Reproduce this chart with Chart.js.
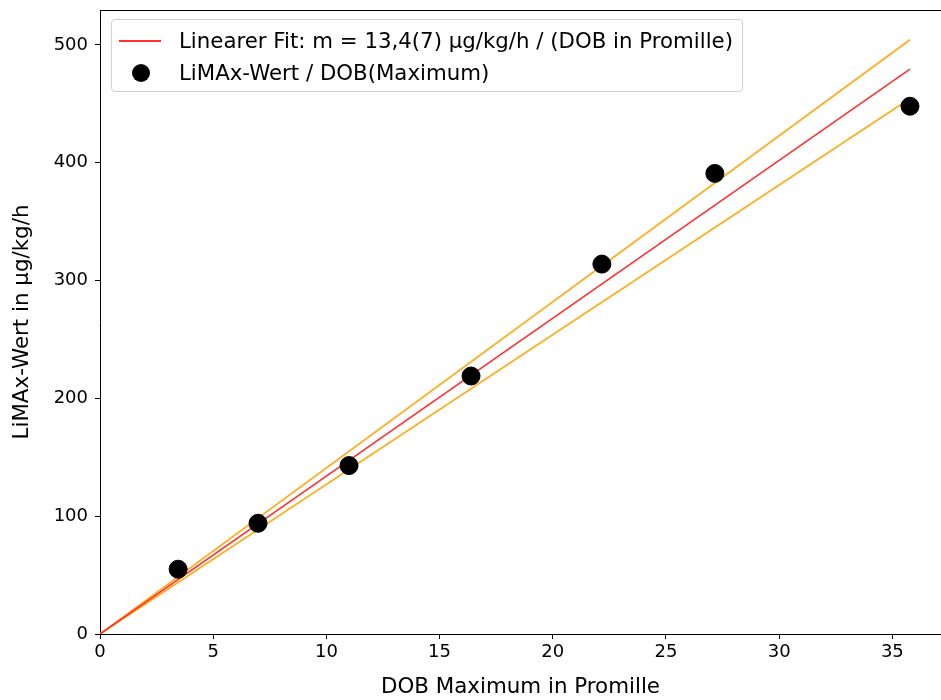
<!DOCTYPE html>
<html>
<head>
<meta charset="utf-8">
<script src="https://cdn.jsdelivr.net/npm/chart.js@4.4.1/dist/chart.umd.min.js"></script>
<style>
  html, body { margin: 0; padding: 0; background: #fff; overflow: hidden; }
  #wrap { position: relative; width: 941px; height: 700px; }
  #legend {
    position: absolute; left: 111px; top: 19px; width: 630px; height: 71px;
    border: 1px solid #d0d0d0; border-radius: 4px; background: rgba(255,255,255,0.8);
    font-family: "DejaVu Sans", sans-serif; font-size: 21.3px; color: #000;
  }
  .row { position: absolute; left: 0; height: 24px; line-height: 24px; white-space: nowrap; }
  .row span.txt { position: absolute; left: 67px; top: 0; }
  .swline { position: absolute; left: 7px; top: 11px; width: 42px; height: 2px; background: #ff3030; }
  .swdot { position: absolute; left: 20px; top: 3px; width: 18px; height: 18px; border-radius: 50%; background: #000; }
</style>
</head>
<body>
<div id="wrap">
  <canvas id="chart" width="941" height="700"></canvas>
  <div id="legend">
    <div class="row" style="top:9px;"><div class="swline"></div><span class="txt">Linearer Fit: m = 13,4(7) μg/kg/h / (DOB in Promille)</span></div>
    <div class="row" style="top:41px;"><div class="swdot"></div><span class="txt">LiMAx-Wert / DOB(Maximum)</span></div>
  </div>
</div>
<script>
// Messpunkte: DOB-Maximum (Promille) und LiMAx-Wert (µg/kg/h)
const dobMax = [3.45, 6.98, 11.0, 16.39, 22.17, 27.16, 35.78];
const limax = [55, 94, 143, 219, 314, 391, 448];

// Fit-Geraden (Endpunkte)
const fitX = [0, 35.78];
const fitY = [0, 479.5];
const upperY = [0, 504.5];
const lowerY = [0, 454.5];

// Achsen (rechter Rand ist im Original abgeschnitten)
const xMax = 37.15;
const yMax = 529.7;
const xTicks = [0, 5, 10, 15, 20, 25, 30, 35];
const yTicks = [0, 100, 200, 300, 400, 500];

const TICKFONT = { family: 'DejaVu Sans', size: 18 };
const LABELFONT = { family: 'DejaVu Sans', size: 21.4 };

function pts(xs, ys) {
  return xs.map((x, i) => ({ x: x, y: ys[i] }));
}

// obere Rahmenlinie wie bei matplotlib
const framePlugin = {
  id: 'frame',
  afterDraw(chart) {
    const a = chart.chartArea, ctx = chart.ctx;
    ctx.save();
    ctx.strokeStyle = '#000';
    ctx.lineWidth = 1;
    ctx.beginPath();
    ctx.moveTo(a.left, a.top + 0.5);
    ctx.lineTo(a.right + 1, a.top + 0.5);
    ctx.stroke();
    ctx.restore();
  }
};

function noPad(s) {
  s.paddingTop = 0; s.paddingBottom = 0; s.paddingLeft = 0; s.paddingRight = 0;
}

new Chart(document.getElementById('chart'), {
  type: 'scatter',
  data: {
    datasets: [
      {
        label: 'LiMAx-Wert / DOB(Maximum)',
        data: pts(dobMax, limax),
        backgroundColor: '#000', borderColor: '#000',
        pointRadius: 9, pointHoverRadius: 9, order: 0
      },
      {
        label: 'Linearer Fit: m = 13,4(7) μg/kg/h / (DOB in Promille)',
        data: pts(fitX, fitY), showLine: true,
        borderColor: '#ff3030', borderWidth: 1.6, pointRadius: 0, order: 1
      },
      {
        label: 'oben', data: pts(fitX, upperY), showLine: true,
        borderColor: '#ffad1f', borderWidth: 1.8, pointRadius: 0, order: 2
      },
      {
        label: 'unten', data: pts(fitX, lowerY), showLine: true,
        borderColor: '#ffad1f', borderWidth: 1.8, pointRadius: 0, order: 3
      }
    ]
  },
  options: {
    responsive: false,
    animation: false,
    layout: { autoPadding: false, padding: { top: 10, left: 0, right: 0, bottom: 0 } },
    plugins: { legend: { display: false }, tooltip: { enabled: false } },
    scales: {
      x: {
        type: 'linear', min: 0, max: xMax,
        afterBuildTicks: s => { s.ticks = xTicks.map(v => ({ value: v })); },
        afterFit: s => { s.height = 66; noPad(s); },
        ticks: { font: TICKFONT, color: '#000', padding: 3, maxRotation: 0 },
        grid: { display: true, drawOnChartArea: false, drawTicks: true, tickLength: 5, tickColor: '#000' },
        border: { display: true, color: '#000', width: 1 },
        title: { display: true, text: 'DOB Maximum in Promille', font: LABELFONT, color: '#000', padding: { top: 4, bottom: 0 } }
      },
      y: {
        type: 'linear', min: 0, max: yMax,
        afterBuildTicks: s => { s.ticks = yTicks.map(v => ({ value: v })); },
        afterFit: s => { s.width = 100; noPad(s); },
        ticks: { font: TICKFONT, color: '#000', padding: 7 },
        grid: { display: true, drawOnChartArea: false, drawTicks: true, tickLength: 5, tickColor: '#000' },
        border: { display: true, color: '#000', width: 1 },
        title: { display: true, text: 'LiMAx-Wert in μg/kg/h', font: LABELFONT, color: '#000', padding: { top: 10, bottom: 4 } }
      }
    }
  },
  plugins: [framePlugin]
});
</script>
</body>
</html>
